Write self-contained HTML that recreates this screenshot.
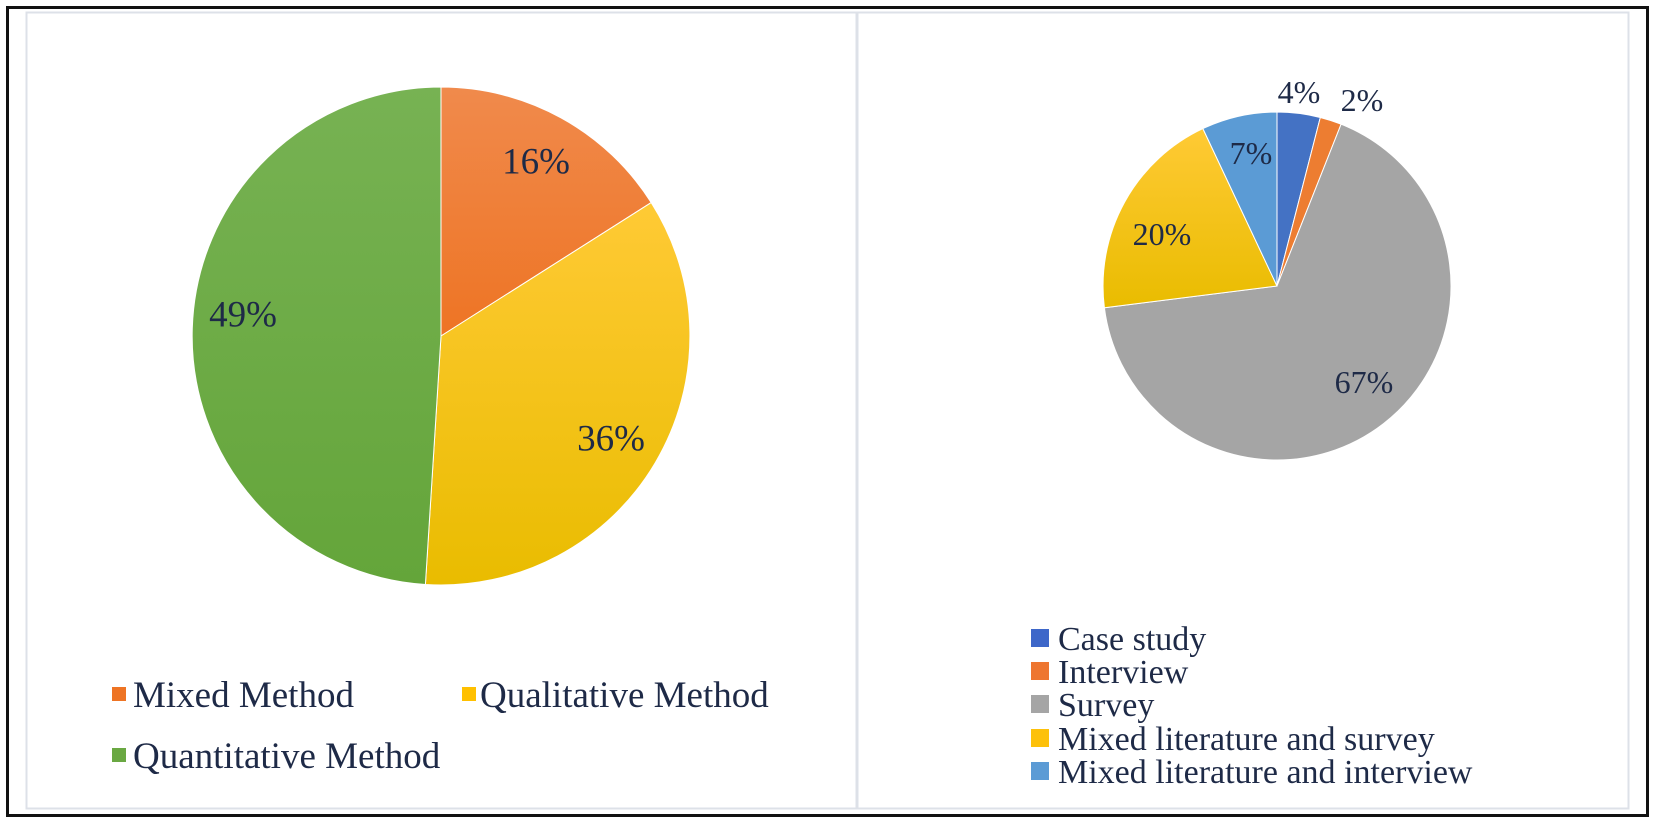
<!DOCTYPE html>
<html><head><style>
html,body{margin:0;padding:0;background:#fff;}
body{width:1654px;height:822px;position:relative;overflow:hidden;font-family:"Liberation Serif",serif;color:#1e2a47;}
</style></head><body>
<svg width="1654" height="822" xmlns="http://www.w3.org/2000/svg" style="position:absolute;left:0;top:0">
<defs>
<linearGradient id="go" x1="0" y1="0" x2="0" y2="1"><stop offset="0" stop-color="#f08a4c"/><stop offset="1" stop-color="#ee7424"/></linearGradient>
<linearGradient id="gy" x1="0" y1="0" x2="0" y2="1"><stop offset="0" stop-color="#ffca35"/><stop offset="1" stop-color="#e9bc00"/></linearGradient>
<linearGradient id="gg" x1="0" y1="0" x2="0" y2="1"><stop offset="0" stop-color="#77b253"/><stop offset="1" stop-color="#64a53a"/></linearGradient>
</defs>
<rect x="7.5" y="7.5" width="1640" height="808" fill="none" stroke="#111" stroke-width="3"/>
<rect x="26.5" y="12.5" width="830" height="796" fill="none" stroke="#dde1e8" stroke-width="2"/>
<rect x="857.5" y="12.5" width="771" height="796" fill="none" stroke="#dde1e8" stroke-width="2"/>
<g stroke="#fff" stroke-width="1">
<path d="M441,336 L441,87 A249,249 0 0 1 651.2,202.6 Z" fill="url(#go)"/>
<path d="M441,336 L651.2,202.6 A249,249 0 0 1 425.4,584.5 Z" fill="url(#gy)"/>
<path d="M441,336 L425.4,584.5 A249,249 0 0 1 441,87 Z" fill="url(#gg)"/>
</g>
<g font-family="Liberation Serif, serif" font-size="37" fill="#1e2a47" text-anchor="middle" dominant-baseline="central">
<text x="536" y="162">16%</text>
<text x="243" y="315">49%</text>
<text x="611" y="439">36%</text>
</g>
<g stroke="#fff" stroke-width="1">
<path d="M1277,286 L1277,112 A174,174 0 0 1 1320.3,117.5 Z" fill="#4472c4"/>
<path d="M1277,286 L1320.3,117.5 A174,174 0 0 1 1341.1,124.2 Z" fill="#ed7d31"/>
<path d="M1277,286 L1341.1,124.2 A174,174 0 1 1 1104.4,307.8 Z" fill="#a5a5a5"/>
<path d="M1277,286 L1104.4,307.8 A174,174 0 0 1 1202.9,128.6 Z" fill="url(#gy)"/>
<path d="M1277,286 L1202.9,128.6 A174,174 0 0 1 1277,112 Z" fill="#5b9bd5"/>
</g>
<g font-family="Liberation Serif, serif" font-size="32" fill="#1e2a47" text-anchor="middle" dominant-baseline="central">
<text x="1299" y="92">4%</text>
<text x="1362" y="100">2%</text>
<text x="1251" y="153">7%</text>
<text x="1162" y="234">20%</text>
<text x="1364" y="382">67%</text>
</g>
<rect x="112" y="687" width="14" height="14" fill="#ee7424"/>
<rect x="462" y="687" width="14" height="14" fill="#ffc000"/>
<rect x="112" y="748" width="14" height="14" fill="#6aa842"/>
<g font-family="Liberation Serif, serif" font-size="37" fill="#1e2a47">
<text x="133" y="707">Mixed Method</text>
<text x="480" y="707">Qualitative Method</text>
<text x="133" y="768">Quantitative Method</text>
</g>
<rect x="1031" y="629" width="18" height="18" fill="#3d67c9"/>
<rect x="1031" y="662" width="18" height="18" fill="#ee7630"/>
<rect x="1031" y="695" width="18" height="18" fill="#a5a5a5"/>
<rect x="1031" y="729" width="18" height="18" fill="#fdc10a"/>
<rect x="1031" y="762" width="18" height="18" fill="#5b9bd5"/>
<g font-family="Liberation Serif, serif" font-size="34" fill="#1e2a47">
<text x="1058" y="650">Case study</text>
<text x="1058" y="683">Interview</text>
<text x="1058" y="716">Survey</text>
<text x="1058" y="750">Mixed literature and survey</text>
<text x="1058" y="783">Mixed literature and interview</text>
</g>
</svg>
</body></html>
